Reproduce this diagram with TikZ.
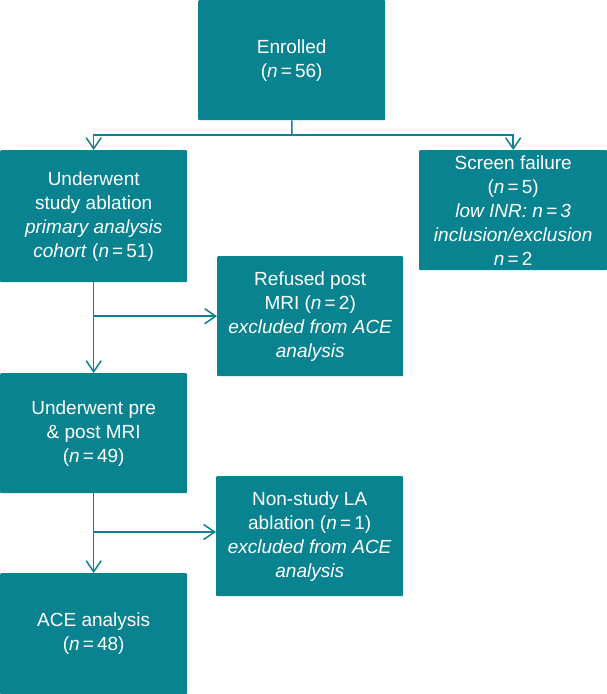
\documentclass[tikz,border=0pt]{standalone}
\usepackage{fontspec}
\setmainfont{Liberation Sans}
\usetikzlibrary{arrows.meta}
\definecolor{flowteal}{RGB}{10,131,144}
\tikzset{
  box/.style={fill=flowteal, text=white, rounded corners=1pt, align=center,
    inner sep=0pt, anchor=north west, font=\fontsize{19}{24}\selectfont},
  link/.style={draw=flowteal, line width=1.5pt},
  arr/.style={link, -{Straight Barb[length=11pt,width=15pt,line width=1.5pt]}}
}
\begin{document}
\begin{tikzpicture}[x=1pt, y=-1pt]
      \useasboundingbox (0, 0) rectangle (607, 694);

      \node [box, minimum width=187pt, minimum height=120pt] (enrolled) at (198, 0)
        {Enrolled\\(\textit{n}\,=\,56)};
      \node [box, minimum width=187pt, minimum height=132pt] (study) at (0, 150)
        {Underwent\\study ablation\\\textit{primary analysis}\\\textit{cohort} (\textit{n}\,=\,51)};
      \node [box, minimum width=188pt, minimum height=120pt] (screen) at (419, 150)
        {Screen failure\\(\textit{n}\,=\,5)\\\textit{low INR: n\,=\,3}\\\textit{inclusion/exclusion}\\\textit{n}\,=\,2};
      \node [box, minimum width=186pt, minimum height=120pt] (refused) at (217, 256)
        {Refused post\\MRI (\textit{n}\,=\,2)\\\textit{excluded from ACE}\\\textit{analysis}};
      \node [box, minimum width=187pt, minimum height=120pt] (mri) at (0, 373)
        {Underwent pre\\\& post MRI\\(\textit{n}\,=\,49)};
      \node [box, minimum width=187pt, minimum height=120pt] (nonstudy) at (216, 476)
        {Non-study LA\\ablation (\textit{n}\,=\,1)\\\textit{excluded from ACE}\\\textit{analysis}};
      \node [box, minimum width=187pt, minimum height=121pt] (ace) at (0, 573)
        {ACE analysis\\(\textit{n}\,=\,48)};

      \coordinate (split) at (292, 135);
      \draw [link] (enrolled) -- (split);
      \draw [arr] (split) -| (study);
      \draw [arr] (split) -| (screen);

      \draw [arr] (study) -- (mri);
      \draw [arr] (study.south |- refused.west) -- (refused.west);

      \draw [arr] (mri) -- (ace);
      \draw [arr] (mri.south |- 0, 532) -- (nonstudy.west |- 0, 532);
\end{tikzpicture}
\end{document}
